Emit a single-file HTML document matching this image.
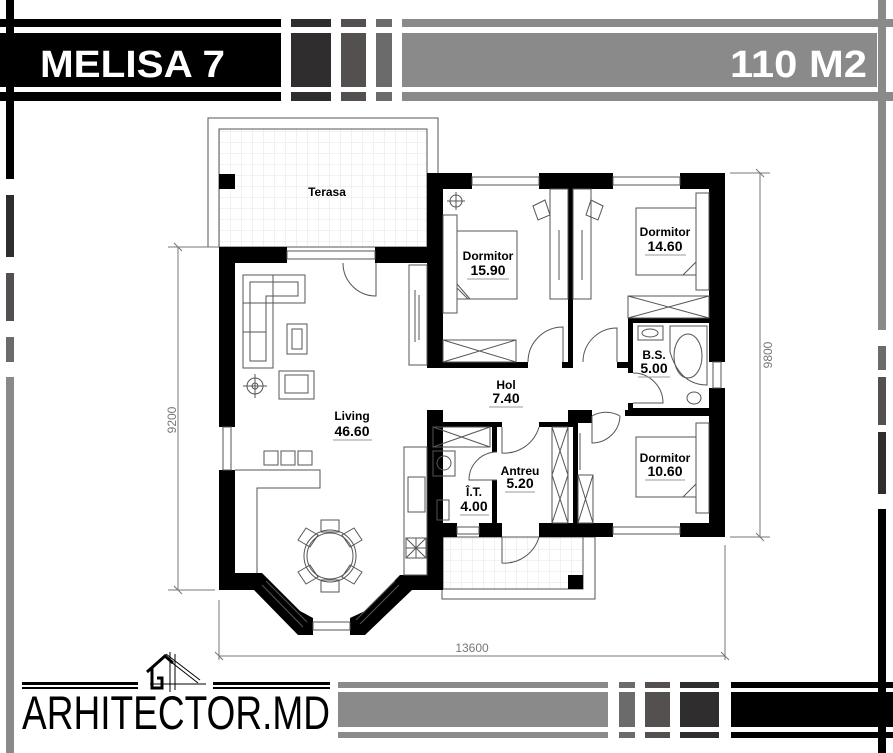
<!DOCTYPE html>
<html><head><meta charset="utf-8"><style>
html,body{margin:0;padding:0;background:#fff;}
body{width:893px;height:753px;overflow:hidden;position:relative;font-family:"Liberation Sans",sans-serif;}
svg{position:absolute;left:0;top:0;}
</style></head><body>
<svg width="893" height="753" viewBox="0 0 893 753" xmlns="http://www.w3.org/2000/svg">
<defs>
<pattern id="tile" width="11" height="11" patternUnits="userSpaceOnUse">
<rect width="11" height="11" fill="#fff"/><path d="M11 0V11H0" fill="none" stroke="#ddd" stroke-width="0.8"/>
</pattern>
</defs>
<!-- header -->
<rect x="0" y="19" width="281" height="8" fill="#000"/>
<rect x="0" y="33" width="281" height="54" fill="#000"/>
<rect x="0" y="92" width="281" height="9" fill="#000"/>
<rect x="291" y="19" width="40" height="8" fill="#302d2e"/><rect x="291" y="33" width="40" height="54" fill="#302d2e"/><rect x="291" y="92" width="40" height="9" fill="#302d2e"/>
<rect x="341" y="19" width="25" height="8" fill="#555050"/><rect x="341" y="33" width="25" height="54" fill="#555050"/><rect x="341" y="92" width="25" height="9" fill="#555050"/>
<rect x="376" y="19" width="16" height="8" fill="#6b6b6b"/><rect x="376" y="33" width="16" height="54" fill="#6b6b6b"/><rect x="376" y="92" width="16" height="9" fill="#6b6b6b"/>
<rect x="402" y="19" width="491" height="8" fill="#8a8a8a"/><rect x="402" y="33" width="475" height="54" fill="#8a8a8a"/><rect x="402" y="92" width="491" height="9" fill="#8a8a8a"/>
<text x="40" y="77" font-size="38" font-weight="bold" fill="#fff" textLength="185" lengthAdjust="spacingAndGlyphs">MELISA 7</text>
<text x="730" y="77" font-size="38" font-weight="bold" fill="#fff" textLength="137" lengthAdjust="spacingAndGlyphs">110 M2</text>
<!-- side lines -->
<rect x="6" y="0" width="8" height="179" fill="#000"/>
<rect x="6" y="195" width="8" height="62" fill="#302d2e"/>
<rect x="6" y="273" width="8" height="48" fill="#555050"/>
<rect x="6" y="337" width="8" height="25" fill="#6b6b6b"/>
<rect x="6" y="377" width="8" height="376" fill="#8a8a8a"/>
<rect x="878" y="0" width="8" height="330" fill="#8a8a8a"/>
<rect x="878" y="346" width="8" height="24" fill="#6b6b6b"/>
<rect x="878" y="377" width="8" height="48" fill="#555050"/>
<rect x="878" y="432" width="8" height="62" fill="#302d2e"/>
<rect x="878" y="509" width="8" height="244" fill="#000"/>
<!-- footer -->
<rect x="338" y="682" width="270" height="6" fill="#8a8a8a"/><rect x="338" y="692" width="270" height="35" fill="#8a8a8a"/><rect x="338" y="732" width="270" height="6" fill="#8a8a8a"/>
<rect x="619" y="682" width="16" height="6" fill="#6b6b6b"/><rect x="619" y="692" width="16" height="35" fill="#6b6b6b"/><rect x="619" y="732" width="16" height="6" fill="#6b6b6b"/>
<rect x="645" y="682" width="25" height="6" fill="#555050"/><rect x="645" y="692" width="25" height="35" fill="#555050"/><rect x="645" y="732" width="25" height="6" fill="#555050"/>
<rect x="680" y="682" width="39" height="6" fill="#302d2e"/><rect x="680" y="692" width="39" height="35" fill="#302d2e"/><rect x="680" y="732" width="39" height="6" fill="#302d2e"/>
<rect x="731" y="682" width="162" height="6" fill="#000"/><rect x="731" y="692" width="162" height="35" fill="#000"/><rect x="731" y="732" width="162" height="6" fill="#000"/>
<rect x="22" y="682" width="116" height="3" fill="#000"/><rect x="22" y="687" width="116" height="2" fill="#000"/>
<rect x="213" y="682" width="117" height="3" fill="#000"/><rect x="213" y="687" width="117" height="2" fill="#000"/>
<path d="M147 672 L165 656 L173 663 M152 668 V688 H162 V678 H157" fill="none" stroke="#000" stroke-width="3"/>
<path d="M166 654 L200 680 M166 658 L198 683 M170 652 V692 M175 654 V690 M150 684 H206" fill="none" stroke="#000" stroke-width="1"/>
<text x="22" y="729" font-size="47" fill="#000" textLength="308" lengthAdjust="spacingAndGlyphs">ARHITECTOR.MD</text>

<!-- terrace -->
<rect x="208" y="118" width="230" height="129" fill="#fff" stroke="#555" stroke-width="1"/>
<rect x="219" y="129" width="208" height="118" fill="url(#tile)" stroke="#555" stroke-width="1"/>
<rect x="219" y="174" width="16" height="15" fill="#000"/>
<!-- bottom porch -->
<rect x="442" y="537" width="153" height="62" fill="#fff" stroke="#555" stroke-width="1"/>
<rect x="443" y="537" width="140" height="52" fill="url(#tile)" stroke="#555" stroke-width="1"/>
<rect x="568" y="575" width="15" height="14" fill="#000"/>

<!-- dimension lines -->
<g stroke="#777" stroke-width="1" fill="none">
<path d="M178 247 V590 M168 247 H219 M168 590 H215"/>
<path d="M219 600 V660 M725 545 V660 M219 656 H725"/>
<path d="M760 173 V537 M730 173 H770 M730 537 H770"/>
<path d="M174 243 L182 251 M174 586 L182 594 M215 652 L223 660 M721 652 L729 660 M756 169 L764 177 M756 533 L764 541"/>
</g>
<text x="472" y="652" font-size="12" fill="#777" text-anchor="middle">13600</text>
<text transform="translate(176,420) rotate(-90)" font-size="12" fill="#777" text-anchor="middle">9200</text>
<text transform="translate(772,355) rotate(-90)" font-size="12" fill="#777" text-anchor="middle">9800</text>

<!-- walls -->
<g fill="#000">
<rect x="219" y="247" width="68" height="16"/>
<rect x="375" y="247" width="68" height="16"/>
<rect x="219" y="247" width="16" height="180"/>
<rect x="219" y="470" width="16" height="120"/>
<polygon points="219,573 262,573 300,611 313,618 313,635 298,635 254,590 219,590"/>
<polygon points="350,618 365,611 400,575 442,575 442,590 412,590 365,635 350,635"/>
<rect x="427" y="410" width="16" height="180"/>
<rect x="427" y="173" width="45" height="16"/>
<rect x="539" y="173" width="74" height="16"/>
<rect x="680" y="173" width="45" height="16"/>
<rect x="427" y="173" width="16" height="194"/>
<rect x="709" y="173" width="16" height="189"/>
<rect x="709" y="388" width="16" height="149"/>
<rect x="427" y="362" width="101" height="6"/>
<rect x="562" y="362" width="11" height="6"/>
<rect x="568" y="189" width="5" height="179"/>
<rect x="617" y="362" width="16" height="6"/>
<rect x="628" y="318" width="5" height="55"/>
<rect x="628" y="318" width="81" height="5"/>
<rect x="628" y="403" width="5" height="13"/>
<rect x="628" y="408" width="81" height="5"/>
<rect x="625" y="410" width="84" height="6"/>
<rect x="427" y="410" width="16" height="17"/>
<rect x="427" y="422" width="75" height="5"/>
<rect x="492" y="422" width="5" height="30"/>
<rect x="492" y="480" width="5" height="50"/>
<rect x="539" y="422" width="34" height="5"/>
<rect x="568" y="410" width="24" height="13"/>
<rect x="573" y="423" width="5" height="100"/>
<rect x="427" y="523" width="30" height="14"/>
<rect x="479" y="523" width="23" height="14"/>
<rect x="539" y="523" width="74" height="14"/>
<rect x="680" y="523" width="45" height="14"/>
</g>
<!-- windows -->
<g fill="#fff" stroke="#555" stroke-width="1">
<rect x="287" y="251" width="88" height="8"/>
<rect x="472" y="177" width="67" height="8"/>
<rect x="613" y="177" width="67" height="8"/>
<rect x="223" y="427" width="8" height="43"/>
<rect x="713" y="362" width="8" height="26"/>
<rect x="457" y="527" width="22" height="7"/>
<rect x="613" y="527" width="67" height="7"/>
<rect x="313" y="622" width="37" height="8"/>
</g>
<g stroke="#555" stroke-width="1" fill="none">
<path d="M262 585 L303 627 M266 581 L307 622"/>
<path d="M360 624 L399 585 M356 620 L395 581"/>
<path d="M343 263 A33 33 0 0 0 376 296 V263"/>
<path d="M528 362 A35 35 0 0 1 563 327 V362"/>
<path d="M583 362 A34 34 0 0 1 617 328 V362"/>
<path d="M633 373 A30 30 0 0 1 663 403 H633"/>
<path d="M502 427 V453 A36 36 0 0 0 539 427"/>
<path d="M592 416 A28 28 0 0 1 620 416 M592 416 V443 A28 28 0 0 0 620 416"/>
<path d="M497 452 A28 28 0 0 0 469 480 H497"/>
<path d="M502 537 V563 A36 36 0 0 0 539 537"/>
<path d="M243 275 H305 V303 H273 V368 H243 Z M250 282 H298 V296 H266 V361 H250 Z M273 275 V303 M243 303 H273 M243 332 H266"/>
<rect x="287" y="324" width="20" height="30"/><rect x="292" y="329" width="10" height="20"/>
<rect x="279" y="371" width="35" height="28"/><rect x="285" y="375" width="23" height="18"/>
<circle cx="255" cy="386" r="8"/><circle cx="255" cy="386" r="3"/><path d="M243 386 H267 M255 374 V398"/>
<rect x="409" y="265" width="18" height="100"/><path d="M415 290 V342 M419 295 V340"/>
<rect x="404" y="447" width="23" height="128"/>
<rect x="408" y="477" width="17" height="35"/>
<rect x="406" y="538" width="20" height="20"/><path d="M406 548 H426 M416 538 V558 M406 538 L426 558 M426 538 L406 558"/>
<rect x="264" y="451" width="14" height="14"/><rect x="281" y="451" width="14" height="14"/><rect x="298" y="451" width="14" height="14"/>
<path d="M235 470 H320 V488 H257 V573"/>
<circle cx="330" cy="556" r="26"/><circle cx="330" cy="556" r="23"/>
<rect x="321" y="520" width="18" height="12"/><rect x="321" y="580" width="18" height="12"/>
<path d="M298 540 L306 528 L318 535 L310 547 Z M362 540 L354 528 L342 535 L350 547 Z M298 572 L306 584 L318 577 L310 565 Z M362 572 L354 584 L342 577 L350 565 Z"/>
<rect x="457" y="231" width="60" height="68"/>
<rect x="443" y="215" width="14" height="98"/>
<path d="M457 284 L470 299 M457 288 L468 299"/>
<rect x="443" y="340" width="73" height="22"/><path d="M443 340 L516 362 M516 340 L443 362"/>
<circle cx="456" cy="201" r="6"/><path d="M447 201 H465 M456 192 V210"/>
<rect x="550" y="189" width="18" height="110"/><path d="M559 230 V280"/>
<rect x="573" y="189" width="18" height="110"/><path d="M582 230 V280"/>
<path d="M533 206 L545 200 L550 215 L538 220 Z M603 206 L591 200 L586 215 L598 220 Z"/>
<rect x="636" y="208" width="60" height="67"/>
<rect x="696" y="193" width="13" height="97"/>
<path d="M696 262 L683 275"/>
<rect x="628" y="296" width="81" height="22"/><path d="M628 296 L709 318 M709 296 L628 318"/>
<path d="M670 326 H707 V385 Q680 385 670 352 Z"/>
<ellipse cx="688" cy="356" rx="14" ry="22"/>
<rect x="638" y="326" width="25" height="14"/><ellipse cx="650" cy="333" rx="8" ry="4"/>
<ellipse cx="694" cy="398" rx="7" ry="6"/>
<rect x="636" y="437" width="60" height="60"/>
<rect x="696" y="423" width="13" height="90"/>
<path d="M696 484 L683 497"/>
<rect x="552" y="427" width="16" height="96"/><path d="M552 427 L568 475 M568 427 L552 475 M552 475 L568 523 M568 475 L552 523"/>
<rect x="578" y="475" width="15" height="48"/><path d="M578 475 L593 523 M593 475 L578 523"/>
<path d="M580 433 V470"/>
<rect x="433" y="427" width="57" height="20"/><path d="M433 427 L490 447 M490 427 L433 447"/>
<rect x="433" y="451" width="22" height="25"/><circle cx="444" cy="463" r="7"/>
<rect x="437" y="500" width="12" height="20"/>
</g>

<!-- labels -->
<g font-weight="bold" fill="#000" text-anchor="middle">
<text x="327" y="196" font-size="12">Terasa</text>
<text x="488" y="260" font-size="12">Dormitor</text><text x="488" y="275" font-size="14">15.90</text>
<text x="665" y="236" font-size="12">Dormitor</text><text x="665" y="251" font-size="14">14.60</text>
<text x="654" y="359" font-size="12">B.S.</text><text x="654" y="373" font-size="14">5.00</text>
<text x="506" y="389" font-size="12">Hol</text><text x="506" y="403" font-size="14">7.40</text>
<text x="352" y="420" font-size="12">Living</text><text x="352" y="436" font-size="14">46.60</text>
<text x="520" y="475" font-size="12">Antreu</text><text x="520" y="488" font-size="14">5.20</text>
<text x="474" y="496" font-size="12">Î.T.</text><text x="474" y="511" font-size="14">4.00</text>
<text x="665" y="462" font-size="12">Dormitor</text><text x="665" y="476" font-size="14">10.60</text>
</g>
<g stroke="#999" stroke-width="1">
<path d="M467 279 H509 M645 255 H686 M638 377 H670 M489 407 H523 M333 440 H372 M505 492 H535 M460 515 H489 M645 480 H685"/>
</g>
</svg>
</body></html>
